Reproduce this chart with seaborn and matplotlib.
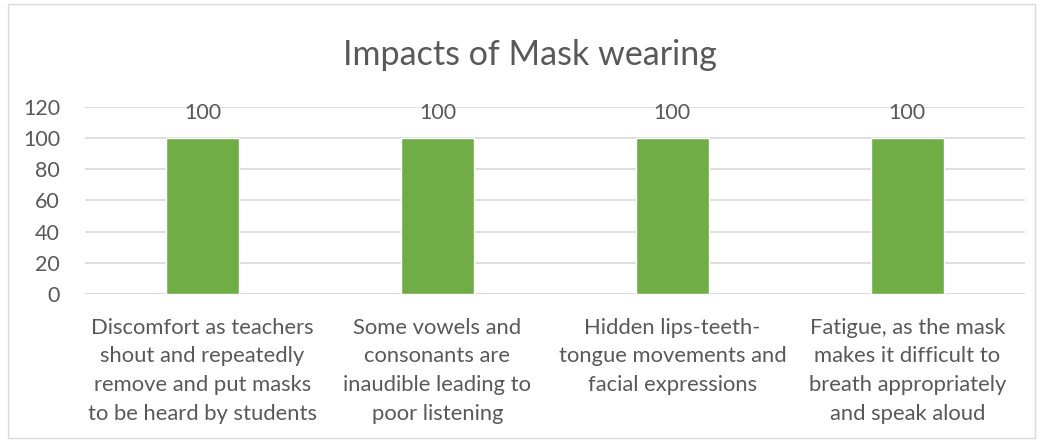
import matplotlib
matplotlib.use("Agg")
import matplotlib.pyplot as plt
import seaborn as sns
import pandas as pd
from matplotlib.patches import Rectangle

# Chart data
categories = [
    "Discomfort as teachers\nshout and repeatedly\nremove and put masks\nto be heard by students",
    "Some vowels and\nconsonants are\ninaudible leading to\npoor listening",
    "Hidden lips-teeth-\ntongue movements and\nfacial expressions",
    "Fatigue, as the mask\nmakes it difficult to\nbreath appropriately\nand speak aloud",
]
values = [100, 100, 100, 100]
y_ticks = [0, 20, 40, 60, 80, 100, 120]

df = pd.DataFrame({"impact": categories, "percent": values})

sns.set_style("white")
plt.rcParams["font.family"] = ["Lato", "DejaVu Sans"]

text_col = "#595959"
fig = plt.figure(figsize=(10.43, 4.40), dpi=100)
ax = fig.add_axes([0.0815, 0.332, 0.901, 0.425])

sns.barplot(data=df, x="impact", y="percent", color="#70AD47", width=0.31,
            saturation=1, ax=ax, zorder=3)

ax.set_ylim(0, 120)
ax.set_yticks(y_ticks)
ax.yaxis.grid(True, color="#D9D9D9", linewidth=1.2, zorder=0)
for s in ax.spines.values():
    s.set_visible(False)
ax.axhline(0, color="#D9D9D9", linewidth=1.2, zorder=1)

ax.tick_params(axis="both", length=0, colors=text_col, labelsize=15.5)
ax.tick_params(axis="y", pad=18)
ax.set_xticks(range(len(categories)))
ax.set_xticklabels(categories, linespacing=1.56, fontsize=15.8, color=text_col)
ax.tick_params(axis="x", pad=17)
ax.set_xlabel("")
ax.set_ylabel("")

for c in ax.containers:
    ax.bar_label(c, labels=[str(v) for v in values], padding=11,
                 color=text_col, fontsize=15.5)

fig.text(0.508, 0.875, "Impacts of Mask wearing", ha="center", va="center",
         fontsize=24.5, color=text_col)

fig.add_artist(Rectangle((0.008, 0.005), 0.984, 0.985, transform=fig.transFigure,
                         fill=False, edgecolor="#D9D9D9", linewidth=1))

fig.savefig("out.png", dpi=100)
